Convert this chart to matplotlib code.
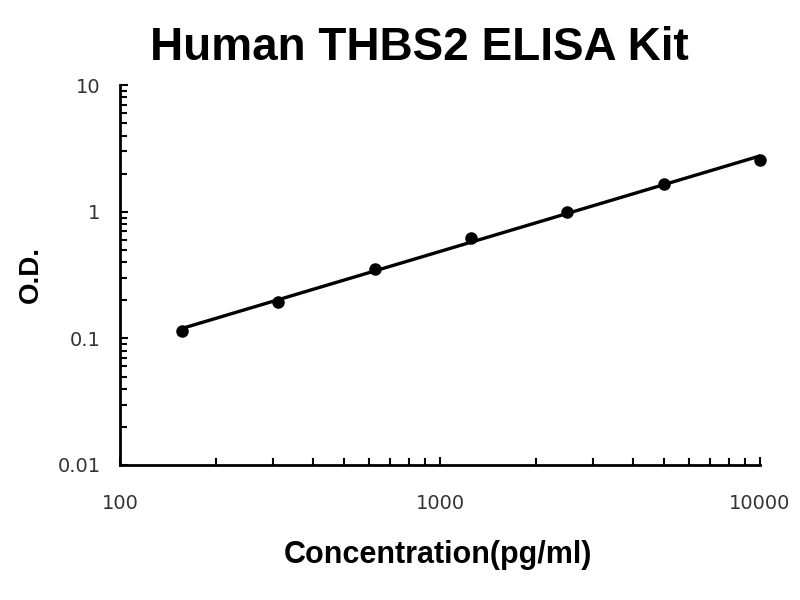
import numpy as np
import matplotlib
matplotlib.use('Agg')
import matplotlib.pyplot as plt

plt.rcParams['font.family'] = ['Liberation Sans', 'DejaVu Sans']

# standard curve points
conc = [156.25, 312.5, 625, 1250, 2500, 5000, 10000]
od = [0.114, 0.195, 0.355, 0.625, 1.0, 1.66, 2.55]

x_ticks = [100, 1000, 10000]
x_labels = ['100', '1000', '10000']
y_ticks = [0.01, 0.1, 1, 10]
y_labels = ['0.01', '0.1', '1', '10']

fig = plt.figure(figsize=(8, 6), dpi=100)
ax = fig.add_axes([0.15, 0.225, 0.8, 0.633])

# straight line fit in log-log space
k, b = np.polyfit(np.log10(conc), np.log10(od), 1)
xs = np.array([conc[0], conc[-1]])
ax.plot(xs, 10 ** (k * np.log10(xs) + b), color='black', lw=2.4)
ax.plot(conc, od, 'o', color='black', ms=8, clip_on=False)

ax.set_xscale('log')
ax.set_yscale('log')
ax.set_xlim(100, 10000)
ax.set_ylim(0.01, 10)
ax.set_xticks(x_ticks)
ax.set_xticklabels(x_labels)
ax.set_yticks(y_ticks)
ax.set_yticklabels(y_labels)

for s in ['top', 'right']:
    ax.spines[s].set_visible(False)
for s in ['left', 'bottom']:
    ax.spines[s].set_linewidth(2)

ax.tick_params(which='both', direction='in', width=1.5, colors='black', labelcolor='#333333')
ax.tick_params(which='major', length=6, labelsize=14)
ax.tick_params(which='minor', length=5)
ax.tick_params(axis='x', which='major', pad=21)
ax.tick_params(axis='y', which='major', pad=14)
for lab in ax.get_xticklabels() + ax.get_yticklabels():
    lab.set_fontfamily('DejaVu Sans')

fig.text(0.524, 0.9, 'Human THBS2 ELISA Kit', fontsize=33, fontweight='bold',
         ha='center', va='baseline')
fig.text(0.5475, 0.062, 'Concentration(pg/ml)', fontsize=22, fontweight='bold',
         ha='center', va='baseline')
fig.text(0.038, 0.542, 'O.D.', fontsize=20, fontweight='bold',
         ha='center', va='center', rotation=90)

fig.savefig('out.png', dpi=100)
